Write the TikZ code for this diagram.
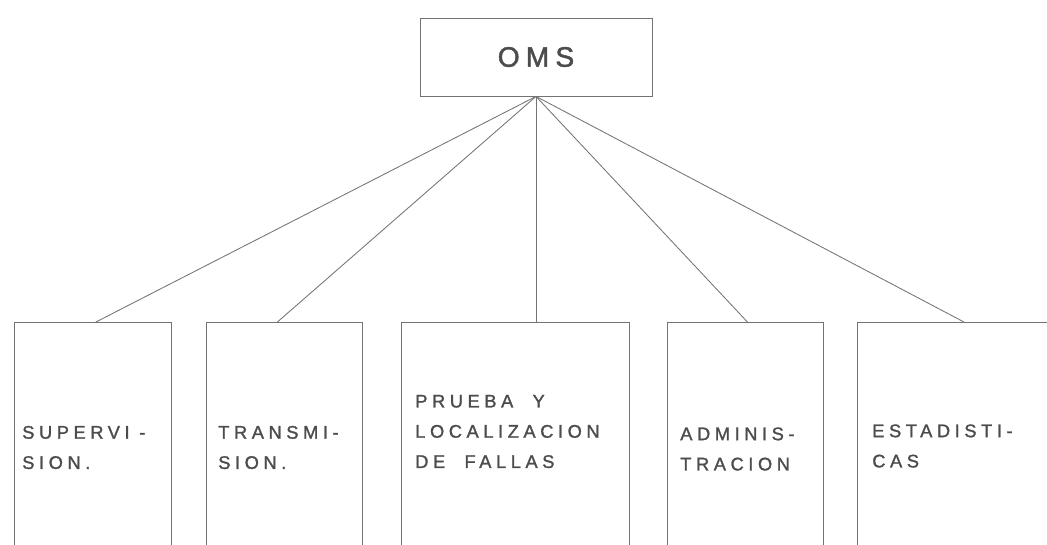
\documentclass[tikz,border=0pt]{standalone}
\usepackage{fontspec}
\newfontfamily\letterfont[LetterSpace=25,FakeBold=1.3]{Liberation Sans}
\newfontfamily\titlefont[LetterSpace=22,FakeBold=1.6]{Liberation Sans}
\colorlet{inkgray}{black!70}
\colorlet{linegray}{black!55}
\def\pxu{0.025cm}
\tikzset{
    box/.style={draw=linegray, line width=0.6pt, anchor=north west, inner sep=0pt, minimum height=250*\pxu},
    lbl/.style={anchor=west, align=left, inner sep=0pt, text=inkgray, font=\letterfont\fontsize{13}{21.5}\selectfont},
    link/.style={draw=linegray, line width=0.6pt}
}
\begin{document}
\begin{tikzpicture}[x=\pxu, y=-\pxu]

    \clip (0,0) rectangle (1047,545);
    \fill[white] (0,0) rectangle (1047,545);

    % top box
    \node[draw=linegray, line width=0.6pt, minimum width=232*\pxu, minimum height=78*\pxu,
          text=inkgray, font=\titlefont\fontsize{20}{24}\selectfont] (oms) at (536,57) {OMS};

    % boxes, open at the bottom of the sheet
    \node[box, minimum width=157*\pxu] (sup) at (14,322) {};
    \node[box, minimum width=156*\pxu] (trans) at (206,322) {};
    \node[box, minimum width=228*\pxu] (prueba) at (401,322) {};
    \node[box, minimum width=156*\pxu] (admin) at (667,322) {};
    \node[box, minimum width=203*\pxu] (estad) at (857,322) {};

    \node[lbl] (supL) at (22,447.5) {SUPERVI -\\SION.};
    \node[lbl] (transL) at (218,447.5) {TRANSMI-\\SION.};
    \node[lbl] (pruebaL) at (415,431.5) {PRUEBA\ \ Y\\LOCALIZACION\\DE\ \ FALLAS};
    \node[lbl] (adminL) at (680,449) {ADMINIS-\\TRACION};
    \node[lbl] (estadL) at (872,446) {ESTADISTI-\\CAS};

    \draw[link] (oms.south) -- ([xshift=3*\pxu]sup.north);
    \draw[link] (oms.south) -- ([xshift=-7*\pxu]trans.north);
    \draw[link] (oms.south) -- (oms.south |- prueba.north);
    \draw[link] (oms.south) -- ([xshift=2*\pxu]admin.north);
    \draw[link] (oms.south) -- ([xshift=5*\pxu]estad.north);

\end{tikzpicture}
\end{document}
